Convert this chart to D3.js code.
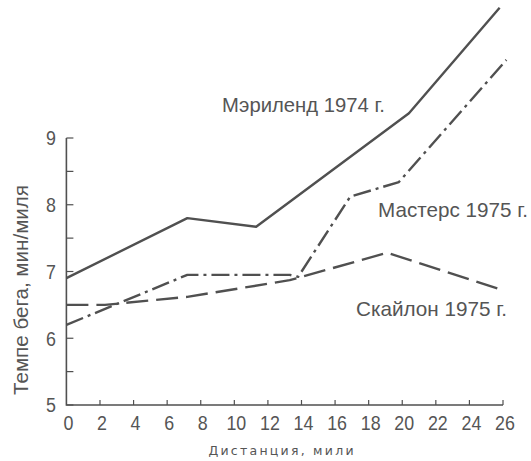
<!DOCTYPE html>
<html>
<head>
<meta charset="utf-8">
<script src="https://cdn.jsdelivr.net/npm/d3@7"></script>
<style>
  body { margin: 0; background: #fff; }
  text { fill: #555; }
</style>
</head>
<body>
<svg id="chart" width="531" height="461"></svg>
<script>
const width = 531;
const height = 461;

// tick values
const xTicks = [0, 2, 4, 6, 8, 10, 12, 14, 16, 18, 20, 22, 24, 26];
const yTicks = [5, 6, 7, 8, 9];
const yMinor = [5.5, 6.5, 7.5, 8.5];

// series (miles, min/mile)
const marylandX = [0, 7.2, 11.3, 20.4, 25.8];
const marylandY = [6.9, 7.8, 7.67, 9.37, 10.95];

const mastersX = [0, 7.2, 13.3, 13.8, 16.9, 19.8, 26.2];
const mastersY = [6.2, 6.95, 6.95, 6.92, 8.12, 8.34, 10.17];

const skylonX = [0, 2.3, 7.2, 13.3, 19.1, 26];
const skylonY = [6.5, 6.5, 6.62, 6.87, 7.28, 6.72];

const seriesNames = ["Мэриленд 1974 г.", "Мастерс 1975 г.", "Скайлон 1975 г."];

const svg = d3.select("#chart");
const ink = "#505050";

const x = d3.scaleLinear().domain([0, 26]).range([66.4, 503]);
const y = d3.scaleLinear().domain([5, 9]).range([405, 138]);

const font = "'Liberation Sans', Arial, sans-serif";

// axes
svg.append("path")
    .attr("d", `M${x(0)},${y(9)}V${y(5)}H${x(26)}`)
    .attr("fill", "none")
    .attr("stroke", ink)
    .attr("stroke-width", 1.6);

svg.append("g")
    .selectAll("line")
    .data(yTicks.concat(yMinor))
    .join("line")
    .attr("x1", x(0))
    .attr("x2", x(0) + 7)
    .attr("y1", d => y(d))
    .attr("y2", d => y(d))
    .attr("stroke", ink)
    .attr("stroke-width", 1.2);

svg.append("g")
    .selectAll("line")
    .data(xTicks.slice(1))
    .join("line")
    .attr("x1", d => x(d))
    .attr("x2", d => x(d))
    .attr("y1", y(5))
    .attr("y2", y(5) - 5)
    .attr("stroke", ink)
    .attr("stroke-width", 1.2);

// y tick labels (narrow face, squeezed horizontally)
svg.append("g")
    .selectAll("text")
    .data(yTicks)
    .join("text")
    .attr("transform", d => `translate(51,${y(d)}) scale(0.85,1)`)
    .attr("dy", "0.35em")
    .attr("text-anchor", "middle")
    .style("font-family", font)
    .style("font-size", "21px")
    .text(d => d);

svg.append("g")
    .selectAll("text")
    .data(xTicks)
    .join("text")
    .attr("transform", d => `translate(${x(d) + 2},423) scale(0.85,1)`)
    .attr("dy", "0.35em")
    .attr("text-anchor", "middle")
    .style("font-family", font)
    .style("font-size", "21px")
    .text(d => d);

// axis titles
svg.append("text")
    .attr("transform", "translate(21,290) rotate(-90)")
    .attr("dy", "0.35em")
    .attr("text-anchor", "middle")
    .attr("textLength", 210)
    .attr("lengthAdjust", "spacingAndGlyphs")
    .style("font-family", font)
    .style("font-size", "20px")
    .text("Темпе бега, мин/миля");

svg.append("text")
    .attr("x", 281)
    .attr("y", 451)
    .attr("dy", "0.35em")
    .attr("text-anchor", "middle")
    .attr("textLength", 145)
    .attr("lengthAdjust", "spacing")
    .style("font-family", "'DejaVu Sans', sans-serif")
    .style("font-size", "12.5px")
    .text("Дистанция, мили");

// lines
const line = d3.line()
    .x(d => x(d[0]))
    .y(d => y(d[1]));

const series = [
    { xs: marylandX, ys: marylandY, dash: null },
    { xs: mastersX, ys: mastersY, dash: "18,5,3,5" },
    { xs: skylonX, ys: skylonY, dash: "22,8" }
];

series.forEach(s => {
    svg.append("path")
        .datum(d3.zip(s.xs, s.ys))
        .attr("d", line)
        .attr("fill", "none")
        .attr("stroke", ink)
        .attr("stroke-width", 2.4)
        .attr("stroke-linejoin", "round")
        .attr("stroke-dasharray", s.dash);
});

// labels for series
const labelPos = [[222, 105, 163], [378, 210, 150], [356, 309, 151]];
svg.append("g")
    .selectAll("text")
    .data(seriesNames)
    .join("text")
    .attr("x", (d, i) => labelPos[i][0])
    .attr("y", (d, i) => labelPos[i][1])
    .attr("dy", "0.35em")
    .attr("textLength", (d, i) => labelPos[i][2])
    .attr("lengthAdjust", "spacingAndGlyphs")
    .style("font-family", font)
    .style("font-size", "21px")
    .text(d => d);
</script>
</body>
</html>
